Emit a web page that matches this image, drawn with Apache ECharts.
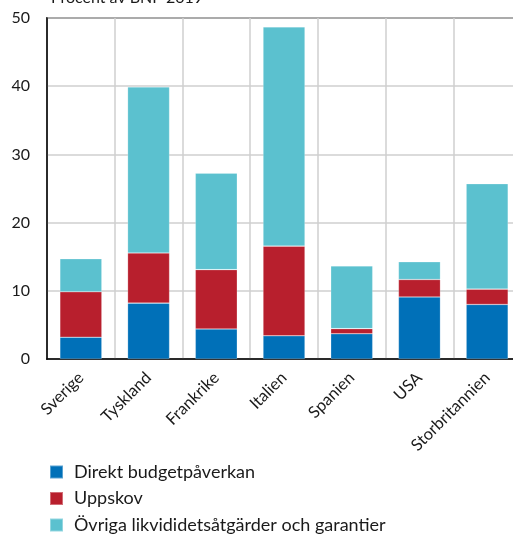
<!DOCTYPE html>
<html>
<head>
<meta charset="utf-8">
<script src="https://cdn.jsdelivr.net/npm/echarts@6/dist/echarts.min.js"></script>
<style>html,body{margin:0;padding:0;background:#fff;overflow:hidden}#c{width:521px;height:534px}</style>
</head>
<body>
<div id="c"></div>
<script>
const categories = ['Sverige', 'Tyskland', 'Frankrike', 'Italien', 'Spanien', 'USA', 'Storbritannien'];
const direkt = [3.2, 8.2, 4.4, 3.4, 3.7, 9.1, 8.0];
const uppskov = [6.65, 7.35, 8.7, 13.15, 0.75, 2.55, 2.25];
const ovriga = [4.85, 24.35, 14.15, 32.15, 9.2, 2.6, 15.45];
const yTicks = [0, 10, 20, 30, 40, 50];
const seriesNames = ['Direkt budgetpåverkan', 'Uppskov', 'Övriga likvididetsåtgärder och garantier'];
const colors = ['#0070B8', '#B81F2D', '#5BC1CF'];

const font = 'Lato, "Open Sans", sans-serif';
const chart = echarts.init(document.getElementById('c'), null, {renderer: 'canvas'});
const mk = (name, data, color) => ({
  name, type: 'bar', stack: 'a', data, barWidth: '62%',
  itemStyle: {color, borderColor: 'rgba(255,255,255,0.35)', borderWidth: 0.6},
  emphasis: {disabled: true}
});
chart.setOption({
  animation: false,
  textStyle: {fontFamily: font},
  title: {
    text: 'Procent av BNP 2019', left: 46, top: -15,
    textStyle: {fontFamily: font, fontSize: 16, fontWeight: 'normal', color: '#1a1a1a'}
  },
  grid: {left: 47, top: 18, right: 0, bottom: 175, containLabel: false,
         show: true, borderColor: '#000', borderWidth: 1.5},
  legend: {
    orient: 'vertical', left: 44, top: 458, width: 480, height: 90,
    itemWidth: 13, itemHeight: 13, itemGap: 8.5,
    icon: 'rect', data: seriesNames,
    textStyle: {fontFamily: font, fontSize: 18, lineHeight: 18, color: '#1a1a1a', padding: [0, 0, 0, 6]}
  },
  xAxis: {
    type: 'category', data: categories,
    axisLine: {lineStyle: {color: '#000', width: 1.5}},
    axisTick: {show: false},
    splitLine: {show: true, lineStyle: {color: '#cfcfcf', width: 1.5}},
    axisLabel: {rotate: 45, fontSize: 16.5, color: '#1a1a1a', margin: 16, interval: 0, fontFamily: font}
  },
  yAxis: {
    type: 'value', min: yTicks[0], max: yTicks[yTicks.length - 1], interval: 10,
    axisLine: {show: true, lineStyle: {color: '#000', width: 1.5}},
    axisTick: {show: false},
    splitLine: {show: true, lineStyle: {color: '#cfcfcf', width: 1.5}},
    axisLabel: {fontSize: 16, color: '#1a1a1a', margin: 17, fontFamily: font}
  },
  series: [
    mk(seriesNames[0], direkt, colors[0]),
    mk(seriesNames[1], uppskov, colors[1]),
    mk(seriesNames[2], ovriga, colors[2])
  ]
});
</script>
</body>
</html>
